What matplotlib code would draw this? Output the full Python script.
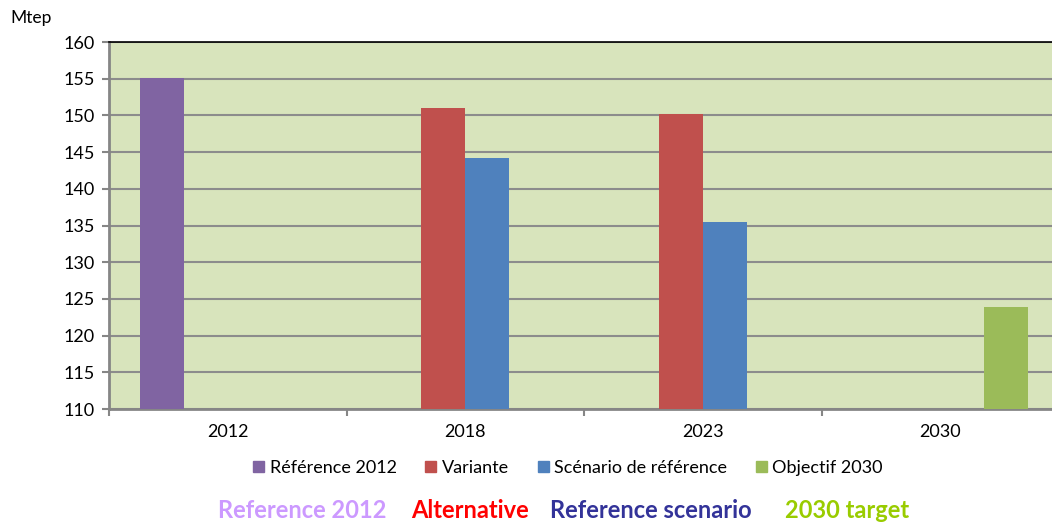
import numpy as np
import matplotlib.pyplot as plt
from matplotlib.patches import Patch

plt.rcParams['font.family'] = ['Lato', 'DejaVu Sans']

# données
years = ['2012', '2018', '2023', '2030']
series = ['Référence 2012', 'Variante', 'Scénario de référence', 'Objectif 2030']
ref2012 = [155.1, np.nan, np.nan, np.nan]
variante = [np.nan, 151.0, 150.2, np.nan]
scenario = [np.nan, 144.2, 135.5, np.nan]
objectif = [np.nan, np.nan, np.nan, 123.9]
colors = ['#8064A2', '#C0504D', '#4F81BD', '#9BBB59']

en_labels = ['Reference 2012', 'Alternative', 'Reference scenario', '2030 target']
en_colors = ['#CC99FF', '#FF0000', '#333399', '#99CC00']

fig = plt.figure(figsize=(10.52, 5.24), dpi=100)
ax = fig.add_axes([109/1052, 115/524, 950/1052, 367/524])
ax.set_facecolor('#D8E4BC')

x = np.arange(len(years))
w = 0.185
for j, vals in enumerate([ref2012, variante, scenario, objectif]):
    v = np.array(vals, dtype=float)
    ax.bar(x + (j - 1.5) * w, v - 110, w, bottom=110, color=colors[j], zorder=3)

ax.set_xlim(-0.5, 3.5)
ax.set_ylim(110, 160)
ax.set_yticks(np.arange(110, 161, 5))
ax.yaxis.grid(True, color='#8C8C8C', linewidth=1.5, zorder=1)
ax.set_axisbelow(True)

ax.set_xticks(x)
ax.set_xticklabels(years, fontsize=13)
ax.set_xticks(np.arange(-0.5, 4, 1), minor=True)
ax.tick_params(axis='x', which='major', length=0, pad=11)
ax.tick_params(axis='x', which='minor', length=5, color='#868686', width=1.5)
ax.tick_params(axis='y', length=5, color='#868686', width=1.5, labelsize=13, pad=5)

for s in ['left', 'bottom']:
    ax.spines[s].set_color('#868686')
    ax.spines[s].set_linewidth(2)
ax.spines['right'].set_visible(False)
ax.spines['top'].set_color('black')
ax.spines['top'].set_linewidth(1.2)

fig.text(10/1052, 1 - 18/524, 'Mtep', fontsize=12.5, va='center')

# légende
handles = [Patch(color=c, label=s) for c, s in zip(colors, series)]
fig.legend(handles=handles, loc='center', bbox_to_anchor=(568/1052, 1 - 468/524),
           ncol=4, frameon=False, fontsize=13, handlelength=0.6, handleheight=0.6,
           handletextpad=0.3, columnspacing=1.6)

# libellés anglais
xs = [218, 411, 550, 785]
for xi, t, c in zip(xs, en_labels, en_colors):
    fig.text(xi/1052, 1 - 511/524, t, color=c, fontsize=17, fontweight='bold', va='center')

fig.savefig('out.png', dpi=100)
